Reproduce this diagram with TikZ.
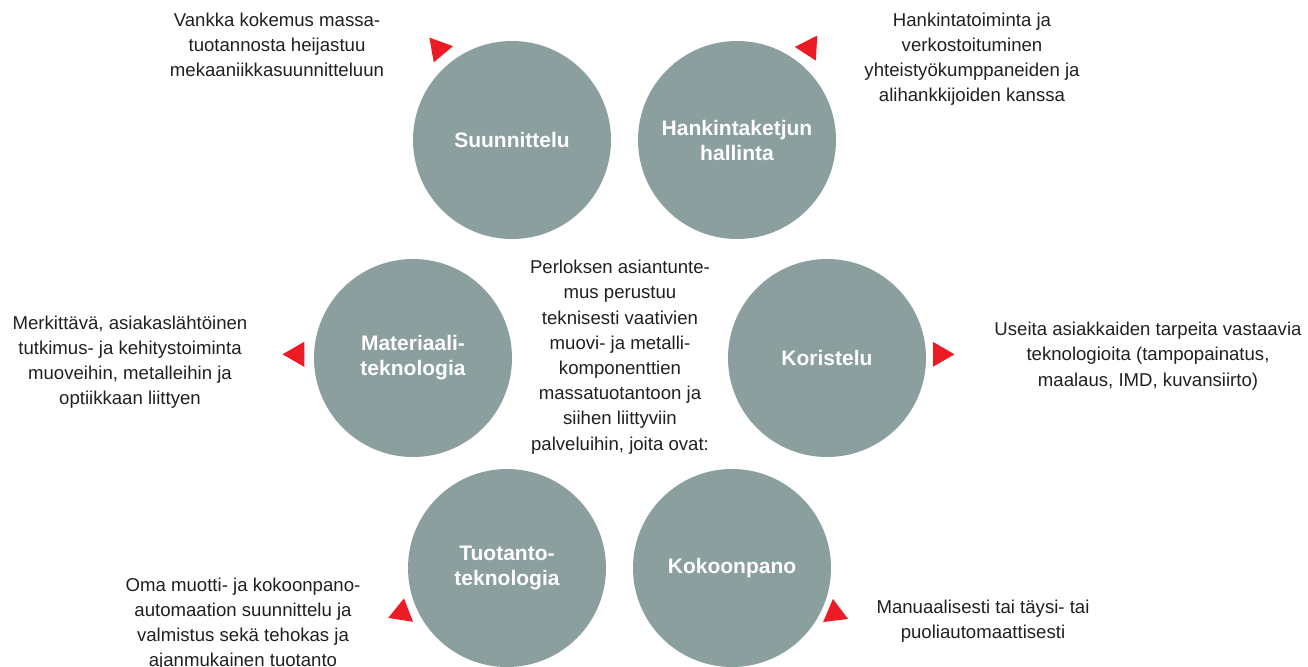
\documentclass[tikz,border=0pt]{standalone}
\usepackage{fontspec}
\setmainfont{Liberation Sans}
\usetikzlibrary{shapes.geometric}
\definecolor{perlogray}{RGB}{138,159,158}
\definecolor{perlored}{RGB}{237,28,36}
\definecolor{perlotext}{RGB}{35,31,32}

\begin{document}
\begin{tikzpicture}[x=0.5pt, y=-0.5pt,
    circ/.style={circle, fill=perlogray, minimum size=99pt, inner sep=0pt, align=center,
                 text=white, font=\fontsize{10.5}{12.5}\selectfont\bfseries},
    note/.style={align=center, text=perlotext, inner sep=0pt,
                 font=\fontsize{9.3}{12.6}\selectfont},
    tri/.style={regular polygon, regular polygon sides=3, fill=perlored,
                minimum size=14.5pt, inner sep=0pt}]
    \useasboundingbox (0,0) rectangle (1308,666);
    \node[circ] (suu) at (512,140) {Suunnittelu};
    \node[circ] (han) at (737,140) {Hankintaketjun\\hallinta};
    \node[circ] (mat) at (413,358) {Materiaali-\\teknologia};
    \node[circ] (kor) at (827,358) {Koristelu};
    \node[circ] (tuo) at (507,568) {Tuotanto-\\teknologia};
    \node[circ] (kok) at (732,568) {Kokoonpano};
    \node[note] (perlos) at (620,357) {Perloksen asiantunte-\\mus perustuu\\teknisesti vaativien\\
        muovi- ja metalli-\\komponenttien\\massatuotantoon ja\\siihen liittyviin\\palveluihin, joita ovat:};
    \node[note] (suutxt) at (277,45) {Vankka kokemus massa-\\tuotannosta heijastuu\\mekaaniikkasuunnitteluun};
    \node[note] (hantxt) at (972,59) {Hankintatoiminta ja\\verkostoituminen\\yhteistyökumppaneiden ja\\alihankkijoiden kanssa};
    \node[note] (mattxt) at (130,362) {Merkittävä, asiakaslähtöinen\\tutkimus- ja kehitystoiminta\\muoveihin, metalleihin ja\\optiikkaan liittyen};
    \node[note] (kortxt) at (1148,356) {Useita asiakkaiden tarpeita vastaavia\\teknologioita (tampopainatus,\\maalaus, IMD, kuvansiirto)};
    \node[note] (tuotxt) at (243,624) {Oma muotti- ja kokoonpano-\\automaation suunnittelu ja\\valmistus sekä tehokas ja\\ajanmukainen tuotanto};
    \node[note] (koktxt) at (983,621) {Manuaalisesti tai täysi- tai\\puoliautomaattisesti};
    % punaiset nuolenkärjet
    \node[tri, rotate=-80] (suutri) at (438.7,48.7) {};
    \node[tri, rotate=87]  (hantri) at (809.3,47.7) {};
    \node[tri, rotate=90]  (mattri) at (297,354.3) {};
    \node[tri, rotate=-90] (kortri) at (940,354.3) {};
    \node[tri, rotate=-9]  (tuotri) at (401.7,612.7) {};
    \node[tri, rotate=7]   (koktri) at (834.7,613.3) {};
\end{tikzpicture}
\end{document}
